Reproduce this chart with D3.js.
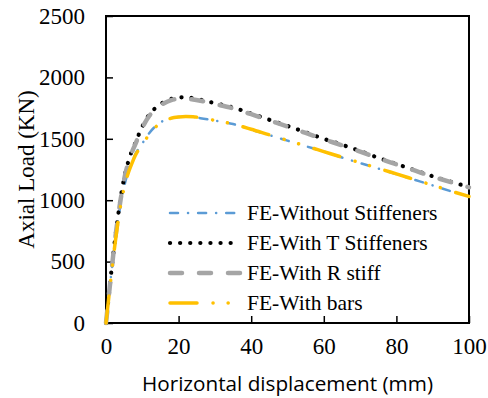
<!DOCTYPE html>
<html>
<head>
<meta charset="utf-8">
<script src="https://cdn.jsdelivr.net/npm/d3@7"></script>
<style>
  html, body { margin: 0; padding: 0; background: #fff; }
  svg { display: block; }
  .serif { font-family: 'Liberation Serif', 'Times New Roman', Times, 'DejaVu Serif', serif; }
</style>
</head>
<body>
<svg id="chart"></svg>
<script>
const svgWidth = 488
const svgHeight = 398
const margin = { left: 106, right: 19, top: 16, bottom: 75 }
const width = svgWidth - margin.left - margin.right
const height = svgHeight - margin.top - margin.bottom

// displacement (mm), shared by all series
const disp = [0, 1, 2, 3, 4, 5, 6, 7, 8, 10, 12, 14, 16, 18, 20, 22, 24, 26, 30, 35, 40, 45, 50, 55, 60, 65, 70, 75, 80, 85, 90, 95, 100]
// axial load (kN)
const loadWithout = [0, 280, 540, 770, 960, 1110, 1220, 1300, 1370, 1462, 1550, 1612, 1650, 1668, 1678, 1680, 1676, 1668, 1648, 1620, 1575, 1530, 1485, 1440, 1396, 1348, 1302, 1258, 1212, 1166, 1120, 1073, 1030]
const loadT = [0, 290, 560, 800, 1010, 1180, 1300, 1390, 1460, 1600, 1700, 1760, 1800, 1825, 1838, 1838, 1830, 1818, 1790, 1755, 1705, 1655, 1605, 1553, 1500, 1452, 1400, 1345, 1295, 1245, 1195, 1150, 1108]
const loadR = [0, 285, 555, 795, 1000, 1170, 1290, 1380, 1450, 1590, 1690, 1750, 1790, 1815, 1825, 1826, 1820, 1810, 1783, 1748, 1700, 1650, 1600, 1548, 1496, 1447, 1396, 1342, 1292, 1242, 1192, 1147, 1105]
const loadBars = [0, 270, 530, 760, 950, 1100, 1210, 1290, 1360, 1450, 1540, 1605, 1645, 1668, 1678, 1682, 1680, 1672, 1650, 1620, 1578, 1532, 1487, 1442, 1396, 1350, 1305, 1260, 1214, 1168, 1122, 1075, 1030]

const xTicks = [0, 20, 40, 60, 80, 100]
const yTicks = [0, 500, 1000, 1500, 2000, 2500]
const seriesNames = ['FE-Without Stiffeners', 'FE-With T Stiffeners', 'FE-With R stiff', 'FE-With bars']

const series = [
    { name: seriesNames[0], values: loadWithout, colour: '#5B9BD5', width: 2.5, dash: '8 10 0.1 10' },
    { name: seriesNames[1], values: loadT, colour: '#000000', width: 4.2, dash: '0.1 10' },
    { name: seriesNames[2], values: loadR, colour: '#A5A5A5', width: 4.5, dash: '12 17' },
    { name: seriesNames[3], values: loadBars, colour: '#FFC000', width: 3.5, dash: '27 16 0.1 15 0.1 16' }
]

const svg = d3.select('#chart')
    .attr('width', svgWidth)
    .attr('height', svgHeight)

const chart = svg.append('g')
    .attr('transform', `translate(${[margin.left, margin.top]})`)

const x = d3.scaleLinear().domain([0, 100]).range([0, width])
const y = d3.scaleLinear().domain([0, 2500]).range([height, 0])

// x axis (ticks inside)
chart.append('g')
    .attr('transform', `translate(0, ${height})`)
    .call(d3.axisBottom(x).tickValues(xTicks).tickFormat(d3.format('d')).tickSize(-7).tickSizeOuter(0).tickPadding(15))
    .call(g => g.attr('font-family', null).attr('font-size', null).attr('class', 'serif'))
    .call(g => g.select('.domain').remove())
    .call(g => g.selectAll('line').attr('stroke', '#000').attr('stroke-width', 1.5))
    .call(g => g.selectAll('text').style('font-size', '23px').attr('fill', '#000'))

// y axis (ticks inside)
chart.append('g')
    .call(d3.axisLeft(y).tickValues(yTicks).tickFormat(d3.format('d')).tickSize(-7).tickSizeOuter(0).tickPadding(21))
    .call(g => g.attr('font-family', null).attr('font-size', null).attr('class', 'serif'))
    .call(g => g.select('.domain').remove())
    .call(g => g.selectAll('line').attr('stroke', '#000').attr('stroke-width', 1.5))
    .call(g => g.selectAll('text').style('font-size', '23px').attr('fill', '#000'))

// frame
chart.append('rect')
    .attr('width', width)
    .attr('height', height)
    .attr('fill', 'none')
    .attr('stroke', '#000')
    .attr('stroke-width', 2)

const line = d3.line()
    .x((d, i) => x(disp[i]))
    .y(d => y(d))
    .curve(d3.curveMonotoneX)

chart.append('g')
    .selectAll('path')
    .data(series)
    .join('path')
    .attr('d', d => line(d.values))
    .attr('fill', 'none')
    .attr('stroke', d => d.colour)
    .attr('stroke-width', d => d.width)
    .attr('stroke-dasharray', d => d.dash)
    .attr('stroke-linecap', 'round')

// legend
const legend = svg.append('g')
    .selectAll('g')
    .data(series)
    .join('g')
    .attr('transform', (d, i) => `translate(170, ${213 + i * 30})`)

legend.append('line')
    .attr('x1', 0)
    .attr('x2', 70)
    .attr('stroke', d => d.colour)
    .attr('stroke-width', d => d.width)
    .attr('stroke-dasharray', d => d.dash)
    .attr('stroke-linecap', 'round')

legend.append('text')
    .attr('class', 'serif')
    .attr('x', 77)
    .attr('dy', '0.33em')
    .style('font-size', '21.5px')
    .text(d => d.name)

// axis titles
svg.append('text')
    .attr('x', margin.left + width / 2)
    .attr('y', 391)
    .attr('text-anchor', 'middle')
    .style('font-family', "'Open Sans', sans-serif")
    .style('font-size', '20px')
    .attr('textLength', 291)
    .attr('lengthAdjust', 'spacingAndGlyphs')
    .text('Horizontal displacement (mm)')

svg.append('text')
    .attr('class', 'serif')
    .attr('transform', `translate(34, ${margin.top + height / 2}) rotate(-90)`)
    .attr('text-anchor', 'middle')
    .style('font-size', '23px')
    .text('Axial Load (KN)')
</script>
</body>
</html>
